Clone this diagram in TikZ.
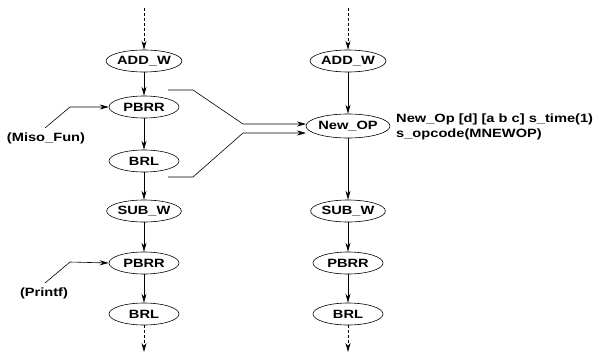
\documentclass[tikz,border=0pt]{standalone}
\usepackage{fontspec}
\setmainfont{Liberation Sans}[FakeStretch=1.22]
\usetikzlibrary{shapes.geometric,arrows.meta}
\begin{document}
\begin{tikzpicture}[x=1pt,y=-1pt,
  op/.style={ellipse,draw,line width=0.6pt,minimum width=70pt,minimum height=22pt,inner sep=0pt,font=\fontsize{12}{13}\selectfont\bfseries},
  lbl/.style={font=\fontsize{12}{13}\selectfont\bfseries,inner sep=0pt},
  flow/.style={line width=0.6pt,-{Stealth[length=9pt,width=5pt]}},
  dflow/.style={flow,dashed,dash pattern=on 3pt off 2pt}]
\useasboundingbox (0,0) rectangle (599,353);
% left column
\node[op] (la) at (144,61) {ADD\_W};
\node[op] (lp1) at (144,107) {PBRR};
\node[op] (lb1) at (144,161) {BRL};
\node[op] (ls) at (144,211) {SUB\_W};
\node[op] (lp2) at (144,263) {PBRR};
\node[op] (lb2) at (144,314) {BRL};
\coordinate (ltop) at (144,8);
\coordinate (lbot) at (144,352);
\draw[dflow] (ltop) -- (la);
\draw[flow] (la) -- (lp1);
\draw[flow] (lp1) -- (lb1);
\draw[flow] (lb1) -- (ls);
\draw[flow] (ls) -- (lp2);
\draw[flow] (lp2) -- (lb2);
\draw[dflow] (lb2) -- (lbot);
% right column
\node[op] (ra) at (348,61) {ADD\_W};
\node[op,minimum width=79pt,minimum height=24pt] (rn) at (348,126) {New\_OP};
\node[op] (rs) at (348,211) {SUB\_W};
\node[op] (rp) at (348,263) {PBRR};
\node[op] (rb) at (348,314) {BRL};
\coordinate (rtop) at (348,8);
\coordinate (rbot) at (348,352);
\draw[dflow] (rtop) -- (ra);
\draw[flow] (ra) -- (rn);
\draw[flow] (rn) -- (rs);
\draw[flow] (rs) -- (rp);
\draw[flow] (rp) -- (rb);
\draw[dflow] (rb) -- (rbot);
% merge connectors
\coordinate (m1) at (168,90);
\coordinate (m2) at (168,177);
\coordinate (n1) at (306,124);
\coordinate (n2) at (306,133);
\draw[flow] (m1) -- (193,90) -- (243,124) -- (n1);
\draw[flow] (m2) -- (193,177) -- (243,133) -- (n2);
% labels
\node[lbl,anchor=west] (t1) at (396,119) {New\_Op [d] [a b c] s\_time(1)};
\node[lbl,anchor=west] (t2) at (396,134) {s\_opcode(MNEWOP)};
\node[lbl] (miso) at (46,138) {(Miso\_Fun)};
\node[lbl] (pf) at (44,293) {(Printf)};
\coordinate (c1) at (45,128);
\coordinate (c2) at (45,283);
\draw[flow] (c1) -- (70,107) -- (lp1.west);
\draw[flow] (c2) -- (70,262) -- (lp2.west);
\end{tikzpicture}
\end{document}
